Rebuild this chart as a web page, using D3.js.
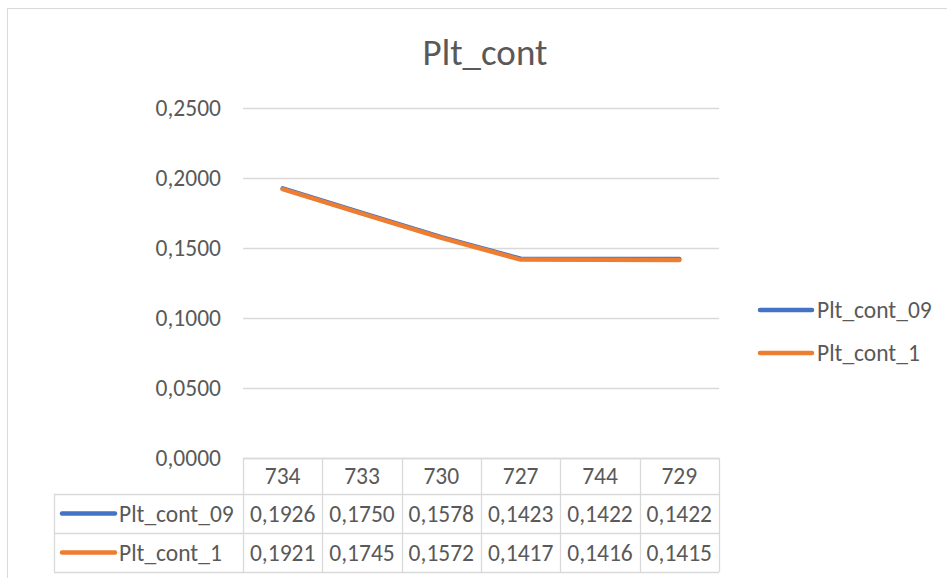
<!DOCTYPE html>
<html>
<head>
<meta charset="utf-8">
<script src="https://cdn.jsdelivr.net/npm/d3@7"></script>
<style>
  html, body { margin: 0; padding: 0; background: #fff; }
  svg text { font-family: Carlito, "Liberation Sans Narrow", "Open Sans", sans-serif; fill: #595959; }
</style>
</head>
<body>
<svg id="chart" width="947" height="578"></svg>
<script>
// Categories and series values
const categories = ["734", "733", "730", "727", "744", "729"];
const seriesNames = ["Plt_cont_09", "Plt_cont_1"];
const pltCont09 = [0.1926, 0.1750, 0.1578, 0.1423, 0.1422, 0.1422];
const pltCont1 = [0.1921, 0.1745, 0.1572, 0.1417, 0.1416, 0.1415];
const yTicks = [0, 0.05, 0.10, 0.15, 0.20, 0.25];
const colors = ["#4472C4", "#ED7D31"];

const series = [
  { name: seriesNames[0], values: pltCont09, color: colors[0] },
  { name: seriesNames[1], values: pltCont1, color: colors[1] }
];

const svg = d3.select("#chart");
const fmt = v => v.toFixed(4).replace(".", ",");
const labelSize = 23.5;

// Chart frame
svg.append("rect")
  .attr("x", 7.5).attr("y", 8.5).attr("width", 960).attr("height", 600)
  .attr("fill", "none").attr("stroke", "#d9d9d9").attr("stroke-width", 1);

// Title
svg.append("text")
  .attr("x", 485).attr("y", 65)
  .attr("text-anchor", "middle")
  .attr("font-size", 37)
  .text("Plt_cont");

const plotLeft = 243, plotRight = 719, plotTop = 108, plotBottom = 458;

const x = d3.scaleBand().domain(categories).range([plotLeft, plotRight]);
const y = d3.scaleLinear().domain([0, 0.25]).range([plotBottom, plotTop]);

// Horizontal gridlines
svg.append("g").selectAll("line").data(yTicks).join("line")
  .attr("x1", plotLeft).attr("x2", plotRight)
  .attr("y1", d => Math.round(y(d)) + 0.5).attr("y2", d => Math.round(y(d)) + 0.5)
  .attr("stroke", "#d9d9d9").attr("stroke-width", 1.3);

// Y axis labels
const yAxis = d3.axisLeft(y).tickValues(yTicks).tickFormat(fmt).tickSize(0).tickPadding(22);
const yg = svg.append("g").attr("transform", `translate(${plotLeft},0)`).call(yAxis);
yg.select(".domain").remove();
yg.selectAll("text").attr("font-size", labelSize).attr("fill", "#595959")
  .attr("font-family", 'Carlito, "Liberation Sans Narrow", "Open Sans", sans-serif');

// Lines
const line = d3.line()
  .x((d, i) => x(categories[i]) + x.bandwidth() / 2)
  .y(d => y(d));

svg.append("g").selectAll("path").data(series).join("path")
  .attr("d", d => line(d.values))
  .attr("fill", "none")
  .attr("stroke", d => d.color)
  .attr("stroke-width", 4.5)
  .attr("stroke-linecap", "round")
  .attr("stroke-linejoin", "round");

// Right-hand legend
const legend = svg.append("g").selectAll("g").data(series).join("g")
  .attr("transform", (d, i) => `translate(758,${310 + i * 43})`);
legend.append("line")
  .attr("x1", 2).attr("x2", 54).attr("y1", 0).attr("y2", 0)
  .attr("stroke", d => d.color).attr("stroke-width", 4.5).attr("stroke-linecap", "round");
legend.append("text")
  .attr("x", 59).attr("y", 8)
  .attr("font-size", labelSize)
  .text(d => d.name);

// Data table below the plot
const tableLeft = 54;
const rowEdges = [458, 494, 533, 572];
const grid = "#d9d9d9";
const tbl = svg.append("g");

// Horizontal rules
tbl.append("line").attr("x1", plotLeft).attr("x2", plotRight)
  .attr("y1", rowEdges[0] + 0.5).attr("y2", rowEdges[0] + 0.5)
  .attr("stroke", grid).attr("stroke-width", 1.3);
rowEdges.slice(1).forEach(r => {
  tbl.append("line").attr("x1", tableLeft).attr("x2", plotRight)
    .attr("y1", r + 0.5).attr("y2", r + 0.5)
    .attr("stroke", grid).attr("stroke-width", 1.3);
});

// Vertical rules
const colEdges = categories.map(c => x(c)).concat([plotRight]);
colEdges.forEach(cx => {
  tbl.append("line").attr("x1", Math.round(cx) + 0.5).attr("x2", Math.round(cx) + 0.5)
    .attr("y1", rowEdges[0]).attr("y2", rowEdges[3])
    .attr("stroke", grid).attr("stroke-width", 1.3);
});
tbl.append("line").attr("x1", tableLeft + 0.5).attr("x2", tableLeft + 0.5)
  .attr("y1", rowEdges[1]).attr("y2", rowEdges[3])
  .attr("stroke", grid).attr("stroke-width", 1.3);

// Category header row
tbl.selectAll("text.cat").data(categories).join("text")
  .attr("class", "cat")
  .attr("x", d => x(d) + x.bandwidth() / 2)
  .attr("y", (rowEdges[0] + rowEdges[1]) / 2 + 8)
  .attr("text-anchor", "middle")
  .attr("font-size", labelSize)
  .text(d => d);

// Series rows
series.forEach((s, si) => {
  const cy = (rowEdges[si + 1] + rowEdges[si + 2]) / 2;
  tbl.append("line")
    .attr("x1", 62).attr("x2", 115).attr("y1", cy).attr("y2", cy)
    .attr("stroke", s.color).attr("stroke-width", 4.5).attr("stroke-linecap", "round");
  tbl.append("text")
    .attr("x", 119).attr("y", cy + 8)
    .attr("font-size", labelSize)
    .text(s.name);
  tbl.selectAll(`text.v${si}`).data(s.values).join("text")
    .attr("class", `v${si}`)
    .attr("x", (d, i) => x(categories[i]) + x.bandwidth() / 2)
    .attr("y", cy + 8)
    .attr("text-anchor", "middle")
    .attr("font-size", labelSize)
    .text(d => fmt(d));
});
</script>
</body>
</html>
